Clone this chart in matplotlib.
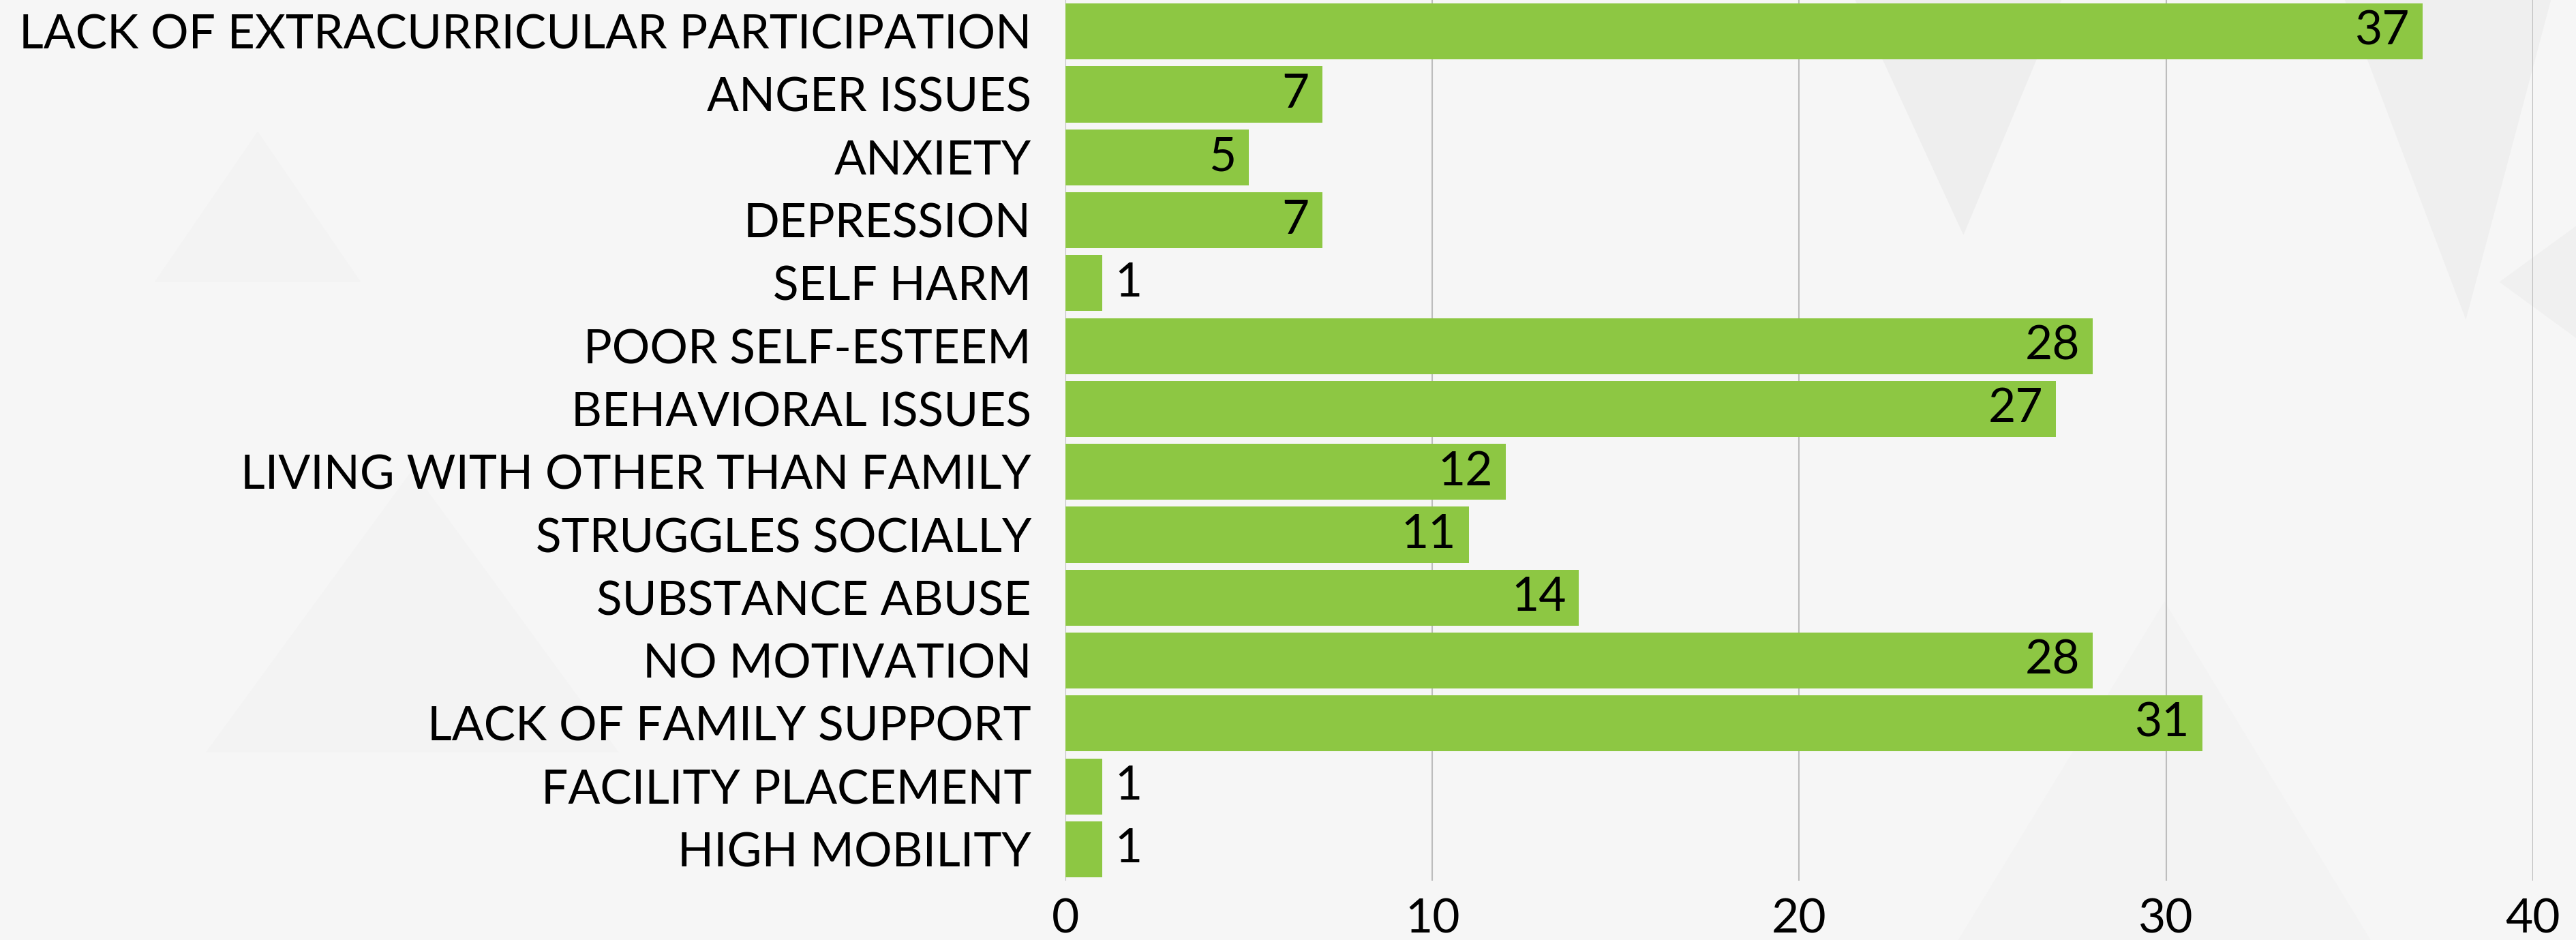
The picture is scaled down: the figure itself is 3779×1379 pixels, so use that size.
import matplotlib.pyplot as plt
from matplotlib.patches import Polygon

categories = [
    'LACK OF EXTRACURRICULAR PARTICIPATION',
    'ANGER ISSUES',
    'ANXIETY',
    'DEPRESSION',
    'SELF HARM',
    'POOR SELF-ESTEEM',
    'BEHAVIORAL ISSUES',
    'LIVING WITH OTHER THAN FAMILY',
    'STRUGGLES SOCIALLY',
    'SUBSTANCE ABUSE',
    'NO MOTIVATION',
    'LACK OF FAMILY SUPPORT',
    'FACILITY PLACEMENT',
    'HIGH MOBILITY',
]
counts = [37, 7, 5, 7, 1, 28, 27, 12, 11, 14, 28, 31, 1, 1]
xticks = [0, 10, 20, 30, 40]

bar_color = '#8dc743'
bg = '#f6f6f6'
plt.rcParams['font.family'] = ['Lato', 'DejaVu Sans']

fig = plt.figure(figsize=(37.8, 13.79), dpi=100, facecolor=bg)

# faint background triangles, on their own axes behind the chart
bg_ax = fig.add_axes([0, 0, 1, 1])
bg_ax.set_zorder(-1)
bg_ax.set_xlim(0, 1)
bg_ax.set_ylim(0, 1)
bg_ax.axis('off')
tris = [
    ([0.72, 1.0], [0.80, 1.0], [0.762, 0.75], '#eeeeee'),
    ([0.91, 1.0], [0.99, 1.0], [0.957, 0.66], '#efefef'),
    ([0.97, 0.70], [1.0, 0.76], [1.0, 0.64], '#f0f0f0'),
    ([0.06, 0.70], [0.10, 0.86], [0.14, 0.70], '#f3f3f3'),
    ([0.08, 0.20], [0.16, 0.50], [0.24, 0.20], '#f3f3f3'),
    ([0.76, 0.0], [0.84, 0.36], [0.92, 0.0], '#f3f3f3'),
]
for a, b, c, col in tris:
    bg_ax.add_patch(Polygon([a, b, c], closed=True, facecolor=col,
                            edgecolor='none'))

ax = fig.add_axes([0.4135, 0.063, 0.5695, 0.937])
ax.set_facecolor('none')

y = list(range(len(categories)))
ax.barh(y, counts, height=0.89, color=bar_color, zorder=3)

for yi, v in zip(y, counts):
    if v >= 5:
        ax.text(v - 0.35, yi, str(v), ha='right', va='center', fontsize=50,
                color='black', zorder=4)
    else:
        ax.text(v + 0.35, yi, str(v), ha='left', va='center', fontsize=50,
                color='black', zorder=4)

ax.set_yticks(y)
ax.set_yticklabels(categories)
ax.set_ylim(len(categories) - 0.5, -0.5)
ax.set_xlim(0, 40)
ax.set_xticks(xticks)
ax.tick_params(axis='y', length=0, pad=36, labelsize=50)
ax.tick_params(axis='x', length=0, pad=18, labelsize=50)
ax.grid(axis='x', color='#bdbdbd', linewidth=1.5, zorder=1)
for s in ax.spines.values():
    s.set_visible(False)

fig.savefig('out.png', dpi=100, facecolor=bg)
